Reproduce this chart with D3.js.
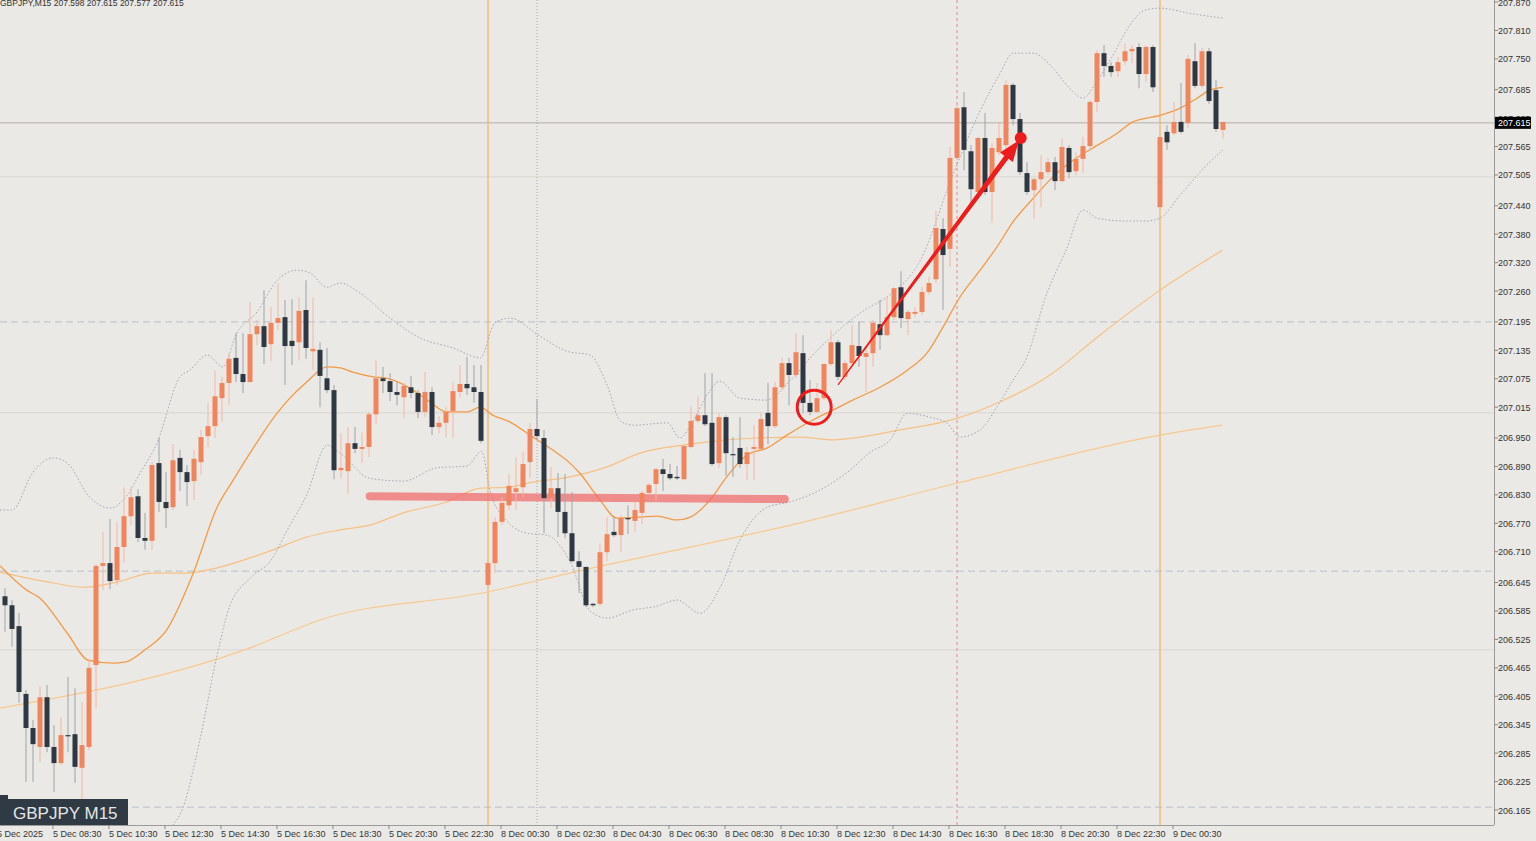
<!DOCTYPE html>
<html><head><meta charset="utf-8">
<script src="https://cdn.jsdelivr.net/npm/d3@7"></script>
<style>body{margin:0;background:#ebe9e5;}svg{display:block;}</style>
</head><body>
<script>
// ---- data (15-min candles, index 0 = 5 Dec 06:45) ----
const opens=[206.616,206.597,206.553,206.410,206.338,206.298,206.403,206.298,206.264,206.323,206.325,206.254,206.298,206.471,206.680,206.686,206.650,206.720,206.785,206.827,206.739,206.733,206.897,206.815,206.804,206.908,206.878,206.859,206.899,206.954,206.975,207.034,207.066,207.119,207.085,207.068,207.169,207.186,207.148,207.193,207.205,207.155,207.152,207.220,207.133,207.136,207.076,207.051,206.882,206.880,206.939,206.927,206.931,207.000,207.076,207.070,207.047,207.036,207.057,207.045,207.005,207.047,206.973,206.982,207.007,207.047,207.064,207.057,207.047,206.640,206.686,206.773,206.808,206.836,206.846,206.899,206.969,206.950,206.823,206.844,206.794,206.749,206.690,206.678,206.600,206.600,206.709,206.752,206.745,206.781,206.775,206.792,206.834,206.853,206.884,206.874,206.868,206.863,206.931,206.986,206.998,206.982,206.897,206.994,206.916,206.929,206.895,206.927,206.927,207.003,206.975,207.057,207.108,207.083,207.129,207.024,207.005,207.034,207.106,207.152,207.079,207.108,207.144,207.121,207.129,207.190,207.167,207.205,207.268,207.201,207.212,207.216,207.258,207.285,207.391,207.349,207.541,207.648,207.555,207.469,207.583,207.469,207.553,207.568,207.695,207.623,207.509,207.473,207.496,207.511,207.532,207.492,207.562,207.513,207.539,207.566,207.659,207.762,207.735,207.724,207.745,207.766,207.775,207.718,207.775,207.437,207.596,207.593,207.617,207.615,207.745,207.693,207.766,207.684,207.600];
const highs=[206.633,206.608,206.581,206.418,206.355,206.427,206.429,206.344,206.361,206.446,206.422,206.393,206.481,206.684,206.752,206.779,206.773,206.846,206.846,206.842,206.792,206.899,206.950,206.878,206.937,206.925,206.893,206.925,206.967,207.024,207.093,207.079,207.129,207.171,207.171,207.237,207.199,207.262,207.226,207.277,207.241,207.243,207.247,207.283,207.247,207.152,207.140,207.062,206.960,206.973,206.973,206.962,207.005,207.114,207.100,207.087,207.068,207.066,207.081,207.051,207.089,207.057,206.996,207.015,207.068,207.104,207.121,207.104,207.104,206.692,206.783,206.825,206.874,206.910,206.920,206.982,207.032,206.967,206.889,206.876,206.874,206.836,206.711,206.678,206.602,206.728,206.783,206.783,206.787,206.808,206.815,206.838,206.855,206.887,206.906,206.895,206.891,206.937,207.017,207.038,207.087,207.087,207.003,206.998,206.952,206.994,206.931,206.977,207.003,207.066,207.068,207.119,207.119,207.171,207.167,207.072,207.066,207.108,207.178,207.157,207.114,207.188,207.195,207.142,207.199,207.241,207.247,207.268,207.302,207.220,207.226,207.268,207.290,207.429,207.414,207.564,207.652,207.680,207.568,207.585,207.636,207.572,207.615,207.705,207.699,207.636,207.532,207.500,207.547,207.541,207.543,207.583,207.568,207.553,207.585,207.663,207.769,207.779,207.743,207.754,207.783,207.779,207.783,207.779,207.779,207.589,207.610,207.659,207.699,207.758,207.783,207.773,207.773,207.705,207.617];
const lows=[206.541,206.509,206.391,206.224,206.224,206.266,206.287,206.203,206.260,206.287,206.222,206.186,206.292,206.380,206.629,206.631,206.640,206.686,206.766,206.730,206.714,206.714,206.794,206.760,206.798,206.838,206.806,206.819,206.872,206.931,206.950,206.984,207.019,207.068,207.045,207.068,207.146,207.106,207.112,207.178,207.062,207.104,207.114,207.117,207.093,207.015,207.045,206.863,206.865,206.832,206.918,206.897,206.910,206.979,207.045,207.028,207.019,206.992,207.034,206.992,206.994,206.956,206.960,206.952,206.950,207.036,207.041,207.024,206.939,206.633,206.665,206.766,206.798,206.798,206.825,206.865,206.946,206.749,206.802,206.741,206.739,206.688,206.623,206.593,206.593,206.595,206.690,206.741,206.709,206.747,206.752,206.768,206.830,206.819,206.838,206.861,206.861,206.861,206.928,206.982,206.975,206.891,206.887,206.870,206.868,206.887,206.861,206.861,206.925,206.937,206.971,207.051,207.019,207.076,207.003,206.998,207.003,207.030,207.102,207.072,207.072,207.100,207.100,207.047,207.100,207.136,207.165,207.199,207.182,207.167,207.205,207.209,207.252,207.277,207.220,207.311,207.536,207.515,207.441,207.463,207.463,207.404,207.547,207.558,207.610,207.505,207.463,207.412,207.437,207.505,207.473,207.490,207.498,207.505,207.509,207.558,207.638,207.712,207.712,207.712,207.737,207.741,207.688,207.701,207.680,207.437,207.558,207.589,207.592,207.604,207.688,207.688,207.655,207.596,207.581];
const closes=[206.597,206.547,206.414,206.338,206.304,206.403,206.298,206.264,206.323,206.321,206.256,206.302,206.465,206.680,206.686,206.648,206.720,206.785,206.825,206.739,206.733,206.893,206.815,206.802,206.903,206.878,206.857,206.906,206.952,206.975,207.038,207.066,207.117,207.085,207.068,207.169,207.186,207.142,207.193,207.203,207.144,207.144,207.218,207.140,207.138,207.081,207.051,206.882,206.887,206.939,206.927,206.931,207.000,207.076,207.070,207.047,207.041,207.060,207.045,207.005,207.047,206.973,206.982,207.005,207.049,207.064,207.055,207.047,206.944,206.686,206.773,206.813,206.849,206.844,206.895,206.969,206.954,206.823,206.844,206.794,206.749,206.690,206.678,206.597,206.597,206.709,206.747,206.745,206.781,206.779,206.798,206.834,206.851,206.884,206.874,206.865,206.865,206.933,206.986,206.998,206.979,206.895,206.994,206.918,206.914,206.895,206.920,206.931,206.990,206.975,207.057,207.108,207.083,207.131,207.024,207.005,207.034,207.106,207.152,207.079,207.108,207.146,207.123,207.129,207.193,207.167,207.205,207.266,207.203,207.216,207.216,207.258,207.277,207.393,207.336,207.541,207.646,207.558,207.475,207.583,207.469,207.562,207.583,207.695,207.623,207.511,207.469,207.496,207.511,207.532,207.492,207.564,207.511,207.539,207.566,207.659,207.762,207.735,207.722,207.743,207.766,207.771,207.718,207.775,207.690,207.585,207.574,207.617,207.596,207.750,207.693,207.766,207.661,207.602,207.617];

// indicator lines: [candle index, price]
const ma20=[[-0.7,206.680],[3.1,206.629],[5,206.612],[8.9,206.538],[11.9,206.481],[15.4,206.475],[17.1,206.477],[20,206.503],[23.1,206.545],[26.9,206.665],[30.3,206.804],[32.6,206.861],[35,206.918],[38.9,207.003],[40.7,207.034],[43.1,207.068],[46,207.100],[47.9,207.098],[49.7,207.089],[52.6,207.079],[54.6,207.076],[57.9,207.055],[60.7,207.026],[63.1,207.005],[66,207.005],[67.9,207.015],[69.7,206.998],[72.1,206.984],[75,206.956],[78.3,206.924],[80.7,206.897],[82.1,206.876],[85,206.819],[87.4,206.781],[90.7,206.783],[93.1,206.785],[96,206.777],[97.9,206.783],[100.7,206.819],[103.1,206.868],[106,206.914],[108.9,206.929],[111.7,206.956],[115.4,206.988],[118.3,207.009],[121.1,207.030],[125,207.057],[128.9,207.093],[131.7,207.129],[134,207.184],[136.4,207.247],[139.3,207.304],[141.7,207.353],[144,207.406],[146.9,207.456],[149.7,207.501],[152.6,207.536],[155.4,207.562],[158.9,207.593],[161.1,207.617],[165,207.631],[167.9,207.646],[170.3,207.667],[172.1,207.684],[174,207.690]];
const ma50=[[-0.7,206.667],[6.9,206.644],[11.1,206.635],[16,206.646],[21.1,206.665],[26,206.665],[30.3,206.676],[35,206.697],[38.3,206.714],[43.1,206.741],[47.9,206.756],[52.1,206.766],[56.9,206.792],[63.1,206.815],[67.9,206.844],[71.7,206.846],[75.4,206.857],[80.7,206.868],[86,206.889],[90.7,206.918],[96.9,206.935],[101.1,206.943],[107.4,206.950],[113.6,206.952],[117.9,206.946],[127.9,206.967],[136.1,206.992],[142.1,207.026],[149.3,207.083],[156.4,207.167],[165,207.262],[173.9,207.346]];
const ma200=[[-0.7,206.380],[35,206.507],[45,206.566],[68.9,206.625],[80.7,206.665],[113.6,206.771],[136.1,206.855],[165,206.956],[173.9,206.977]];
const bbUpper=[[-0.7,206.798],[1,206.798],[4,206.878],[6.9,206.908],[8.9,206.897],[12.1,206.825],[15,206.802],[16.9,206.819],[19.3,206.876],[21.7,206.939],[25,207.079],[26.4,207.093],[28.9,207.125],[31.1,207.100],[33.1,207.171],[36,207.216],[38.9,207.283],[41.7,207.304],[43.6,207.298],[46,207.268],[47.9,207.277],[50.7,207.256],[55,207.203],[59.3,207.161],[64,207.140],[67.9,207.119],[70,207.193],[72.1,207.203],[76.4,207.165],[80.3,207.133],[83.6,207.125],[86,207.062],[87.9,206.986],[89.7,206.977],[94.6,206.982],[96.4,206.950],[98.3,206.986],[100.3,207.041],[102.1,207.070],[105,207.034],[108.9,207.030],[112.1,207.070],[115.4,207.125],[122.6,207.218],[126.4,207.252],[130.7,207.323],[135.4,207.505],[139.3,207.640],[142.1,207.718],[144,207.762],[146.9,207.762],[149.3,207.737],[152.1,207.688],[154,207.667],[156,207.703],[158.3,207.758],[160.4,207.815],[162.9,207.853],[165,207.857],[169.3,207.846],[173.9,207.836]];
const bbLower=[[23.6,206.127],[25.4,206.169],[27.9,206.317],[30.3,206.492],[32.1,206.595],[35,206.654],[37.9,206.690],[40.7,206.766],[43.1,206.830],[46,206.935],[47.9,206.918],[52.1,206.865],[56.9,206.859],[61.7,206.887],[66,206.891],[68.1,206.922],[69.3,206.838],[71.7,206.775],[74.6,206.749],[77.4,206.745],[80.7,206.690],[83.6,206.585],[86,206.570],[89.7,206.587],[93.1,206.595],[96,206.608],[99.3,206.580],[102.1,206.633],[105,206.735],[108.9,206.804],[112.1,206.815],[116.4,206.840],[120.7,206.882],[123.6,206.920],[126.4,206.945],[128.9,207.002],[132.1,206.994],[134.6,206.981],[136.4,206.952],[139.3,206.967],[141.7,207.015],[144,207.072],[146,207.121],[148.6,207.245],[151.7,207.351],[154,207.431],[156,207.414],[159.7,207.408],[163.1,207.408],[165,207.414],[167.9,207.463],[171.7,207.526],[174,207.558]];

const priceTicks=[207.870,207.810,207.750,207.685,207.625,207.565,207.505,207.440,207.380,207.320,207.260,207.195,207.135,207.075,207.015,206.950,206.890,206.830,206.770,206.710,206.645,206.585,206.525,206.465,206.405,206.345,206.285,206.225,206.165];
const timeTickIdx=[-1,7,15,23,31,39,47,55,63,71,79,87,95,103,111,119,127,135,143,151,159,167];
const timeTickLabels=["5 Dec 2025","5 Dec 08:30","5 Dec 10:30","5 Dec 12:30","5 Dec 14:30","5 Dec 16:30","5 Dec 18:30","5 Dec 20:30","5 Dec 22:30","8 Dec 00:30","8 Dec 02:30","8 Dec 04:30","8 Dec 06:30","8 Dec 08:30","8 Dec 10:30","8 Dec 12:30","8 Dec 14:30","8 Dec 16:30","8 Dec 18:30","8 Dec 20:30","8 Dec 22:30","9 Dec 00:30"];
const levelsDashed=[207.195,206.669,206.171];
const levelsFaint=[207.501,207.003,206.503];
const lastPrice=207.615;
const supportLine=[[52.1,206.827],[111.4,206.821]];
const circleAt=[115.6,207.015];
const arrowLine=[[119,207.062],[145.1,207.583]];
const sessionLines=[69,165], dottedLine=76, redDashLine=136;

// ---- drawing ----
const W=1536,H=841,PR=1494,PB=825;
const x=d3.scaleLinear().domain([0,174]).range([5,1223]);
const y=d3.scaleLinear().domain([206.165,207.870]).range([810,2]);
const svg=d3.select("body").append("svg").attr("width",W).attr("height",H);
svg.append("rect").attr("width",W).attr("height",H).attr("fill","#ebe9e5");
svg.append("defs").append("clipPath").attr("id","c").append("rect").attr("width",PR).attr("height",PB);
const g=svg.append("g").attr("clip-path","url(#c)");

levelsFaint.forEach(p=>g.append("line").attr("x1",0).attr("x2",PR).attr("y1",y(p)).attr("y2",y(p)).attr("stroke","#dad7d2").attr("stroke-width",1));
levelsDashed.forEach(p=>g.append("line").attr("x1",0).attr("x2",PR).attr("y1",y(p)).attr("y2",y(p)).attr("stroke","#b9c0cb").attr("stroke-width",1).attr("stroke-dasharray","7,4"));
g.append("line").attr("x1",0).attr("x2",PR).attr("y1",y(lastPrice)).attr("y2",y(lastPrice)).attr("stroke","#c6c2bc").attr("stroke-width",1.5);

sessionLines.forEach(i=>g.append("line").attr("x1",x(i)).attr("x2",x(i)).attr("y1",0).attr("y2",PB).attr("stroke","#f5a64a").attr("stroke-width",1));
g.append("line").attr("x1",x(dottedLine)).attr("x2",x(dottedLine)).attr("y1",0).attr("y2",PB).attr("stroke","#a8a8a8").attr("stroke-width",1).attr("stroke-dasharray","1,2");
g.append("line").attr("x1",x(redDashLine)).attr("x2",x(redDashLine)).attr("y1",0).attr("y2",PB).attr("stroke","#e08a8a").attr("stroke-width",1).attr("stroke-dasharray","3,3");

const ln=d3.line().x(d=>x(d[0])).y(d=>y(d[1])).curve(d3.curveMonotoneX);
g.append("path").attr("d",ln(ma200)).attr("fill","none").attr("stroke","#f8c98e").attr("stroke-width",1.2);
g.append("path").attr("d",ln(ma50)).attr("fill","none").attr("stroke","#f7c083").attr("stroke-width",1.2);
g.append("path").attr("d",ln(bbUpper)).attr("fill","none").attr("stroke","#a3a3b0").attr("stroke-width",1).attr("stroke-dasharray","1.5,2");
g.append("path").attr("d",ln(bbLower)).attr("fill","none").attr("stroke","#a3a3b0").attr("stroke-width",1).attr("stroke-dasharray","1.5,2");
g.append("path").attr("d",ln(ma20)).attr("fill","none").attr("stroke","#f29a48").attr("stroke-width",1.3);

// support marker
g.append("line").attr("x1",x(supportLine[0][0])).attr("y1",y(supportLine[0][1])).attr("x2",x(supportLine[1][0])).attr("y2",y(supportLine[1][1]))
 .attr("stroke","rgba(240,110,110,0.75)").attr("stroke-width",8).attr("stroke-linecap","round");

// candles
const data=opens.map((o,i)=>({i,o,h:highs[i],l:lows[i],c:closes[i]}));
const cg=g.append("g");
data.forEach(d=>{
  const bull=d.c>=d.o, cx=x(d.i);
  cg.append("line").attr("x1",cx).attr("x2",cx).attr("y1",y(d.h)).attr("y2",y(d.l))
    .attr("stroke",bull?"#f3b7a3":"#9ea3a8").attr("stroke-width",1);
  const top=y(Math.max(d.o,d.c)), bot=y(Math.min(d.o,d.c));
  cg.append("rect").attr("x",cx-2.5).attr("width",5).attr("y",top).attr("height",Math.max(1.2,bot-top))
    .attr("fill",bull?"#f0855d":"#2e3842");
});

// red annotations
const red="#ee1c1c";
g.append("circle").attr("cx",x(circleAt[0])).attr("cy",y(circleAt[1])).attr("r",17).attr("fill","none").attr("stroke",red).attr("stroke-width",3);
(function(){
  const x1=x(arrowLine[0][0]),y1=y(arrowLine[0][1]),x2=x(arrowLine[1][0]),y2=y(arrowLine[1][1]);
  const dx=x2-x1,dy=y2-y1,L=Math.hypot(dx,dy),ux=dx/L,uy=dy/L,nx=-uy,ny=ux;
  const hl=20, bx=x2-ux*(hl+4), by=y2-uy*(hl+4);
  const pts=[[x1+nx*0.6,y1+ny*0.6],[bx+nx*2.6,by+ny*2.6],[bx+nx*8,by+ny*8],[x2-ux*3,y2-uy*3],[bx-nx*8,by-ny*8],[bx-nx*2.6,by-ny*2.6],[x1-nx*0.6,y1-ny*0.6]];
  g.append("polygon").attr("points",pts.map(p=>p.join(",")).join(" ")).attr("fill",red);
  g.append("circle").attr("cx",x2).attr("cy",y2).attr("r",6).attr("fill",red);
})();

// axes
svg.append("line").attr("x1",PR+0.5).attr("x2",PR+0.5).attr("y1",0).attr("y2",PB).attr("stroke","#9a9a9a");
svg.append("line").attr("x1",0).attr("x2",PR).attr("y1",PB+0.5).attr("y2",PB+0.5).attr("stroke","#9a9a9a");
const font="'Liberation Sans', Arial, sans-serif";
const ya=svg.append("g").attr("font-family",font).attr("font-size",9).attr("fill","#333");
priceTicks.forEach(p=>{
  ya.append("line").attr("x1",PR).attr("x2",PR+4).attr("y1",y(p)).attr("y2",y(p)).attr("stroke","#888");
  ya.append("text").attr("x",PR+4).attr("y",y(p)+3.5).text(p.toFixed(3));
});
const ly=y(lastPrice);
svg.append("rect").attr("x",PR+1).attr("y",ly-6).attr("width",36).attr("height",12).attr("fill","#000");
svg.append("text").attr("x",PR+4).attr("y",ly+3.5).attr("font-family",font).attr("font-size",9).attr("fill","#fff").text(lastPrice.toFixed(3));

const xa=svg.append("g").attr("font-family",font).attr("font-size",9).attr("fill","#333");
timeTickIdx.forEach((t,k)=>{
  const tx=x(t)-1;
  xa.append("line").attr("x1",tx).attr("x2",tx).attr("y1",PB).attr("y2",PB+4).attr("stroke","#888");
  xa.append("text").attr("x",tx).attr("y",PB+12).text(timeTickLabels[k]);
});

svg.append("text").attr("x",0).attr("y",6).attr("font-family",font).attr("font-size",8.5).attr("fill","#333")
  .text("GBPJPY,M15  207.598 207.615 207.577 207.615");
svg.append("rect").attr("x",0).attr("y",799).attr("width",128).attr("height",26).attr("fill","#2f3a44");
svg.append("rect").attr("x",0).attr("y",795).attr("width",8).attr("height",5).attr("fill","#2f3a44");
svg.append("text").attr("x",13).attr("y",819).attr("font-family",font).attr("font-size",17).attr("fill","#e6e6e6").text("GBPJPY M15");
</script>
</body></html>
